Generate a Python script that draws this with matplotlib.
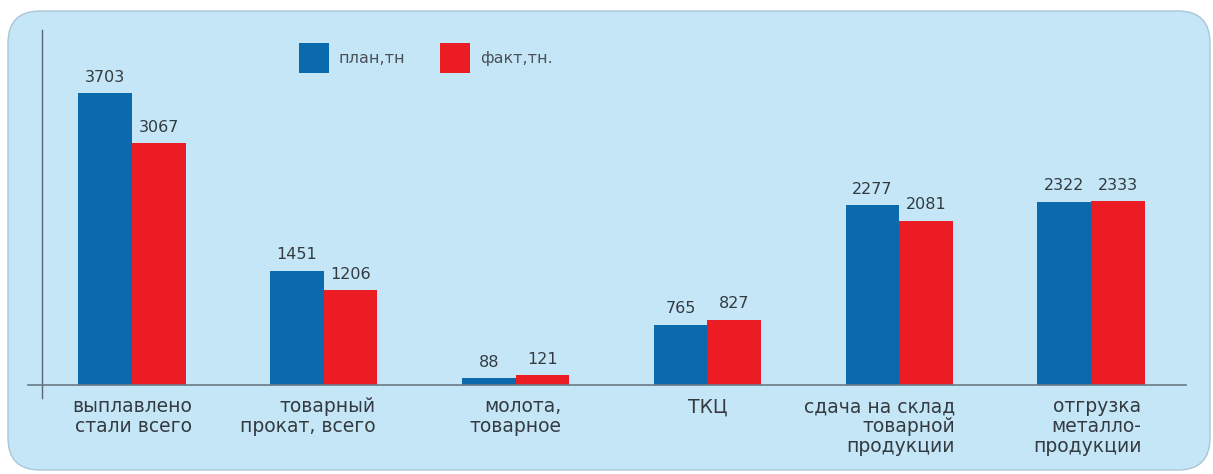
import numpy as np
import matplotlib
matplotlib.use('Agg')
import matplotlib.pyplot as plt
import matplotlib.transforms as mtransforms
from matplotlib.patches import FancyBboxPatch
from matplotlib.lines import Line2D

categories = ["выплавлено\nстали всего", "товарный\nпрокат, всего", "молота,\nтоварное",
              "ТКЦ", "сдача на склад\nтоварной\nпродукции", "отгрузка\nметалло-\nпродукции"]
plan = [3703, 1451, 88, 765, 2277, 2322]
fact = [3067, 1206, 121, 827, 2081, 2333]
series_names = ["план,тн", "факт,тн."]

BLUE = '#0b6aad'
RED = '#ec1c24'
PANEL = '#c5e6f7'
TEXT = '#333b40'

plt.rcParams['font.family'] = ['DejaVu Sans']

W, H = 1213, 474
fig = plt.figure(figsize=(W / 100, H / 100), dpi=100, facecolor='white')

# rounded light-blue panel behind everything
panel = FancyBboxPatch((0.08, 0.04), 12.02, 4.59,
                       boxstyle="round,pad=0,rounding_size=0.32",
                       transform=fig.dpi_scale_trans, facecolor=PANEL,
                       edgecolor='#a9c6d6', linewidth=1.0, zorder=-5)
fig.patches.append(panel)

# axes placed in pixels: baseline at y=89 (from bottom), plot left at x=42
ax = fig.add_axes([42 / W, 89 / H, (1186 - 42) / W, 355 / H])
ax.set_facecolor('none')
for s in ax.spines.values():
    s.set_visible(False)

x = np.arange(len(categories))
w = 0.28
b1 = ax.bar(x - w / 2, plan, w, color=BLUE, label=series_names[0], zorder=2)
b2 = ax.bar(x + w / 2, fact, w, color=RED, label=series_names[1], zorder=2)

ax.bar_label(b1, padding=6, fontsize=11.5, color=TEXT)
ax.bar_label(b2, padding=6, fontsize=11.5, color=TEXT)

ax.set_xlim(-0.469, 5.495)
ax.set_ylim(0, 4500)
ax.set_yticks([])
ax.set_xticks(x)
ax.set_xticklabels(categories, fontsize=13.5, color=TEXT)
ax.tick_params(axis='x', length=0, pad=9)

# labels in the original are nudged left a little (pixels)
nudge = [0, -16, 0, 0, -20, -4]
for lab, dx in zip(ax.get_xticklabels(), nudge):
    lab.set_multialignment('right')
    lab.set_linespacing(1.05)
    lab.set_transform(lab.get_transform() + mtransforms.ScaledTranslation(dx / 100, 0, fig.dpi_scale_trans))

# axis lines
fig.add_artist(Line2D([42 / W, 42 / W], [1 - 398 / H, 1 - 30 / H], color='#5a6670', lw=1.0))
fig.add_artist(Line2D([28 / W, 1186 / W], [89 / H, 89 / H], color='#6a7a86', lw=1.2))

fig.legend(handles=[b1, b2], labels=series_names, loc='upper left',
           bbox_to_anchor=(299 / W, 1 - 43 / H), ncol=2, frameon=False,
           fontsize=11.5, handlelength=1.88, handleheight=2.51, handletextpad=0.6,
           columnspacing=2.2, borderpad=0, borderaxespad=0, labelcolor='#4a5258')

fig.savefig('out.png', dpi=100, facecolor='white')
